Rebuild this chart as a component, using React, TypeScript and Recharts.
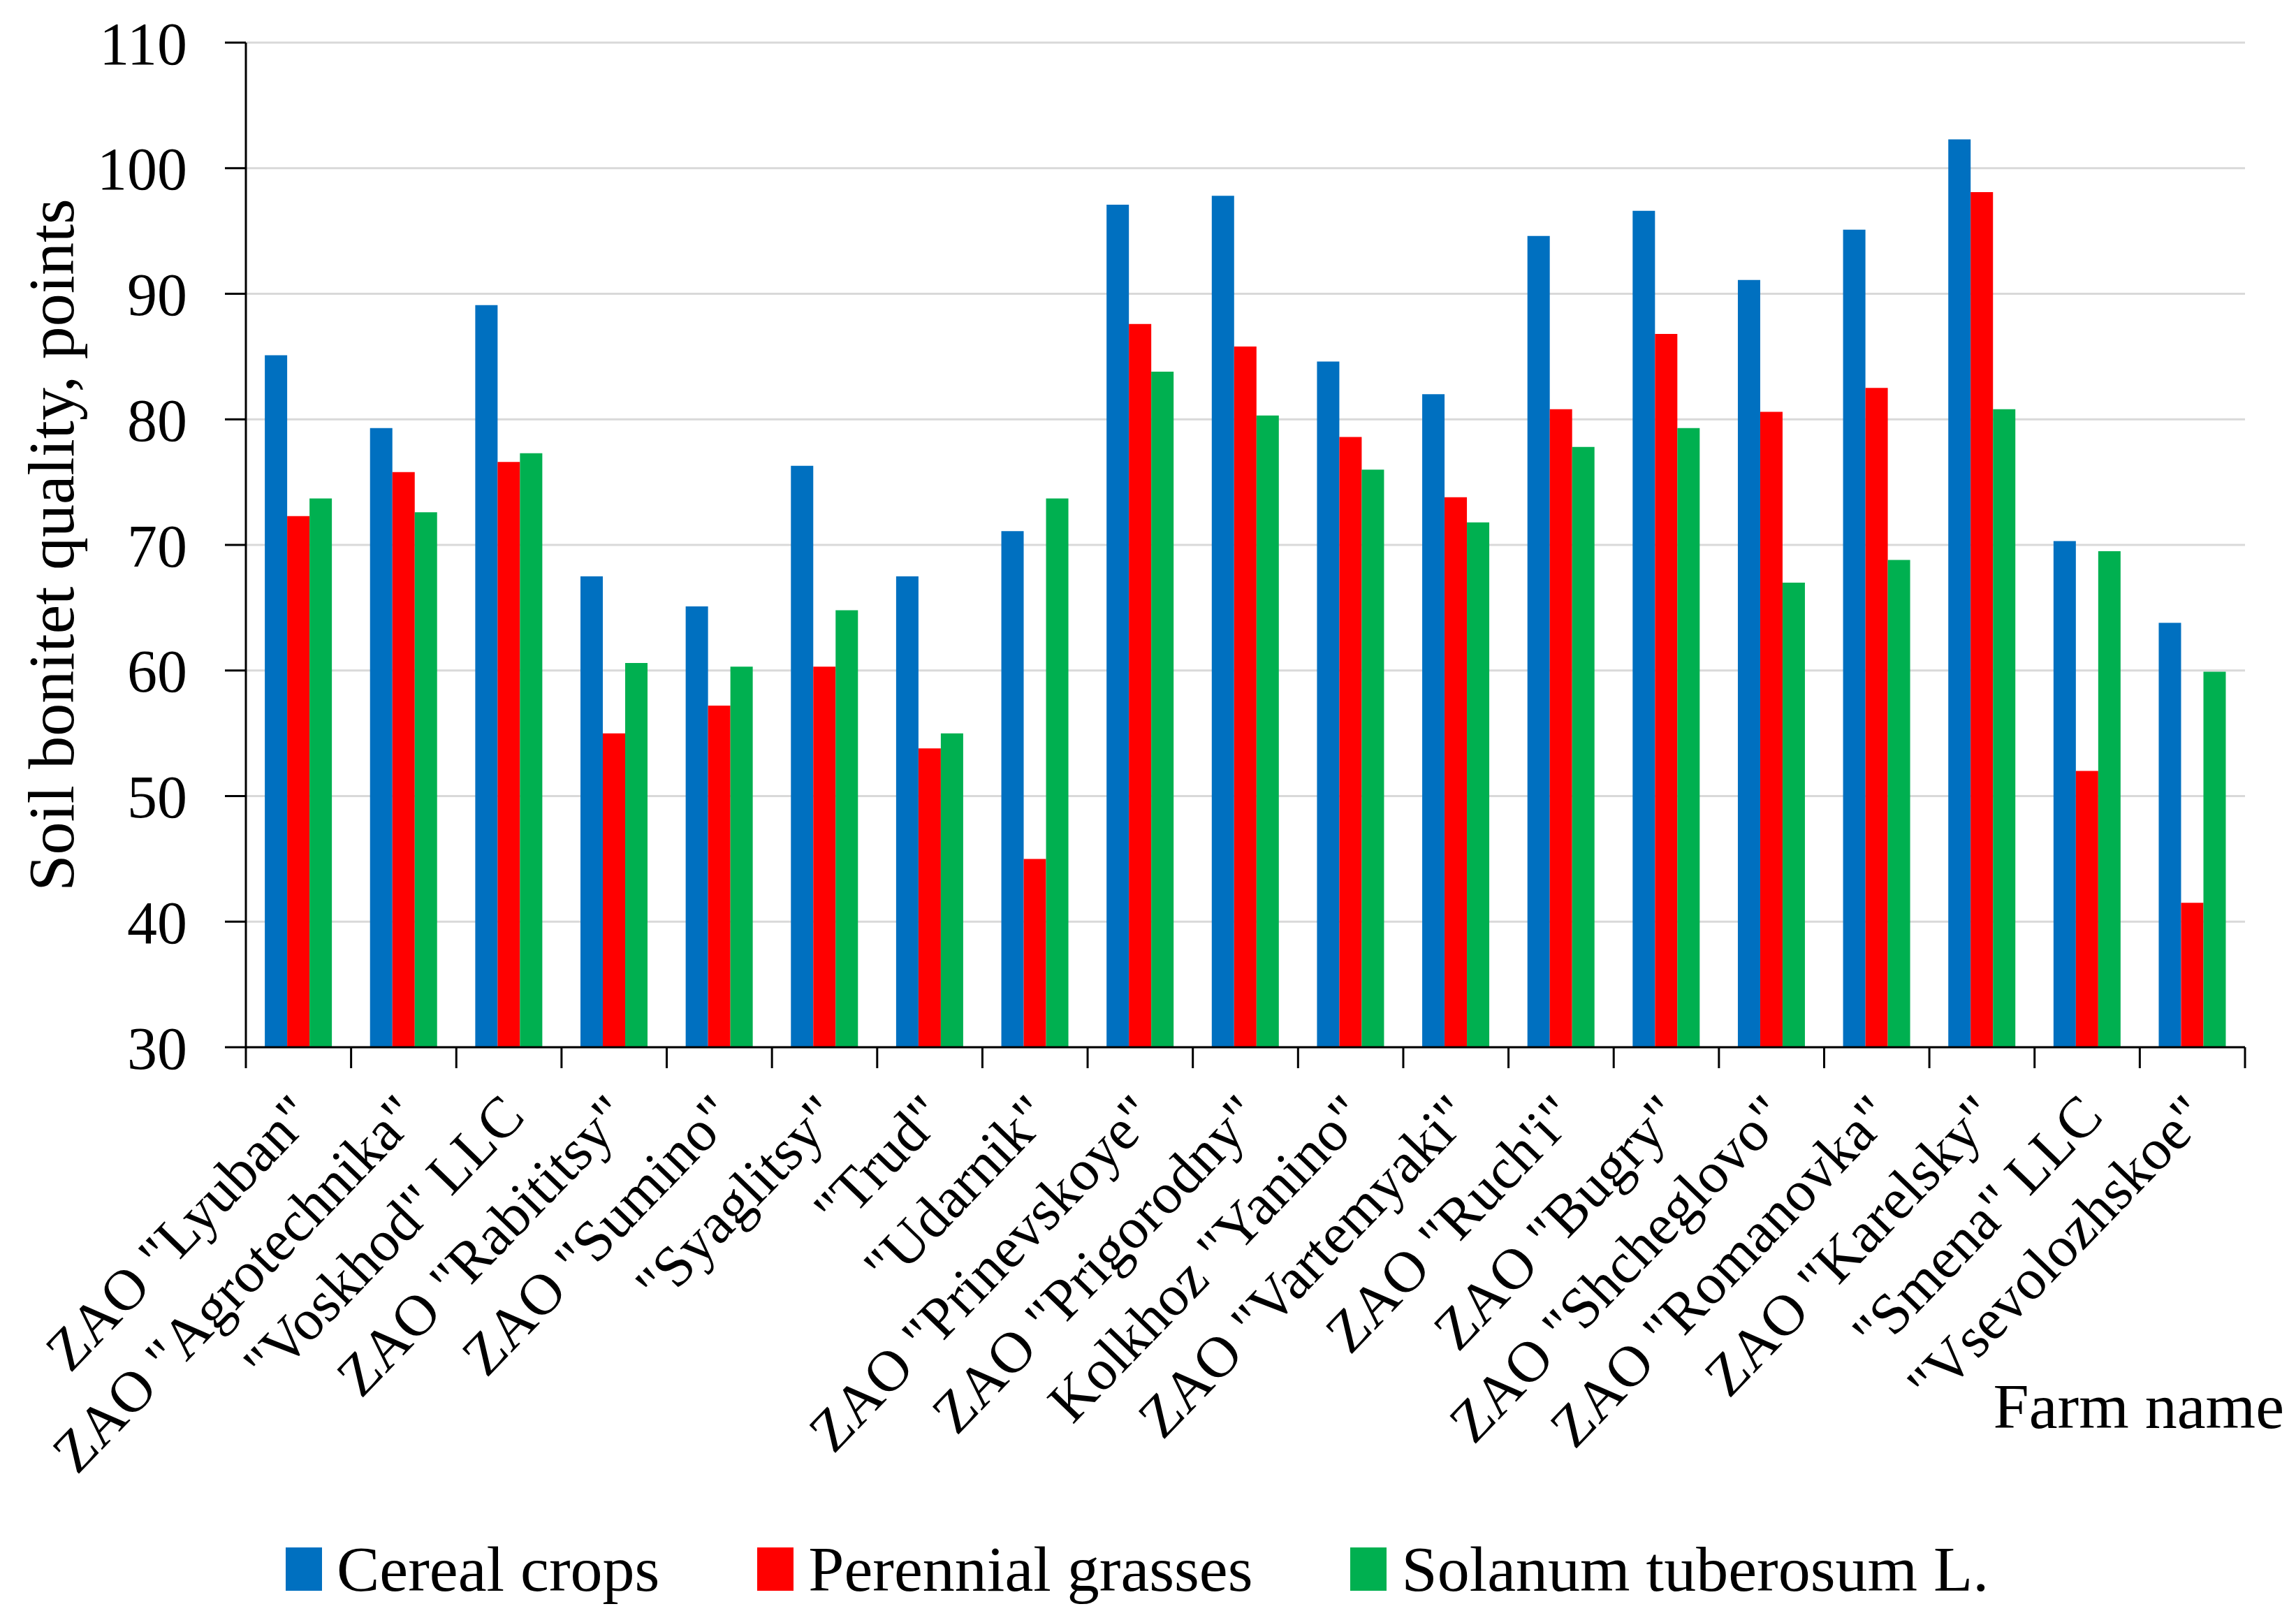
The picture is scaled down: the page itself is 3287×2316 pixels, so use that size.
import React from 'react';
import { BarChart, Bar, XAxis, YAxis, CartesianGrid, Legend } from 'recharts';

const farms = [
  'ZAO "Lyuban"',
  'ZAO "Agrotechnika"',
  '"Voskhod" LLC',
  'ZAO "Rabititsy"',
  'ZAO "Sumino"',
  '"Syaglitsy"',
  '"Trud"',
  '"Udarnik"',
  'ZAO "Prinevskoye"',
  'ZAO "Prigorodny"',
  'Kolkhoz "Yanino"',
  'ZAO "Vartemyaki"',
  'ZAO "Ruch\'i"',
  'ZAO "Bugry"',
  'ZAO "Shcheglovo"',
  'ZAO "Romanovka"',
  'ZAO "Karelsky"',
  '"Smena" LLC',
  '"Vsevolozhskoe"',
];
const cereal = [85.1, 79.3, 89.1, 67.5, 65.1, 76.3, 67.5, 71.1, 97.1, 97.8, 84.6, 82.0, 94.6, 96.6, 91.1, 95.1, 102.3, 70.3, 63.8];
const grasses = [72.3, 75.8, 76.6, 55.0, 57.2, 60.3, 53.8, 45.0, 87.6, 85.8, 78.6, 73.8, 80.8, 86.8, 80.6, 82.5, 98.1, 52.0, 41.5];
const potato = [73.7, 72.6, 77.3, 60.6, 60.3, 64.8, 55.0, 73.7, 83.8, 80.3, 76.0, 71.8, 77.8, 79.3, 67.0, 68.8, 80.8, 69.5, 59.9];
const yTicks = [30, 40, 50, 60, 70, 80, 90, 100, 110];

const data = farms.map((farm, i) => ({
  farm,
  cereal: cereal[i],
  grasses: grasses[i],
  potato: potato[i],
}));

const W = 3287;
const H = 2316;
const PLOT_LEFT = 352;
const PLOT_RIGHT = 3214;
const BAND = (PLOT_RIGHT - PLOT_LEFT) / farms.length;
const FONT = "'Liberation Serif', 'Times New Roman', serif";

const XTick = (props: any) => {
  const { x, y, payload, index } = props;
  const half = BAND / 2;
  return (
    <g>
      <line x1={x - half} x2={x - half} y1={y} y2={y + 30} stroke="#000" strokeWidth={3} />
      {index === farms.length - 1 && (
        <line x1={x + half} x2={x + half} y1={y} y2={y + 30} stroke="#000" strokeWidth={3} />
      )}
      <text
        transform={`translate(${x + 26},${y + 102}) rotate(-46)`}
        textAnchor="end"
        fontSize={83}
        fontFamily={FONT}
        fill="#000"
      >
        {payload.value}
      </text>
    </g>
  );
};

const LegendContent = (props: any) => {
  const { payload } = props;
  return (
    <div style={{ display: 'flex', alignItems: 'center', paddingLeft: 409, height: 110, fontFamily: FONT }}>
      {payload.map((p: any) => (
        <div key={p.value} style={{ display: 'flex', alignItems: 'center', marginRight: 140 }}>
          <div style={{ width: 52, height: 62, background: p.color, marginRight: 21 }} />
          <span style={{ fontSize: 92, color: '#000', lineHeight: 1 }}>{p.value}</span>
        </div>
      ))}
    </div>
  );
};

export default function App() {
  return (
    <div style={{ position: 'absolute', left: 0, top: 0, background: '#fff' }}>
      <BarChart
        width={W}
        height={H}
        data={data}
        margin={{ top: 61, right: W - PLOT_RIGHT, left: 0, bottom: 15 }}
        barCategoryGap="18%"
        barGap={0}
      >
        <CartesianGrid vertical={false} stroke="#D9D9D9" strokeWidth={3} />
        <XAxis
          dataKey="farm"
          interval={0}
          height={2316 - 1499 - 15 - 110}
          tickLine={false}
          tickSize={0}
          tickMargin={0}
          axisLine={{ stroke: '#000', strokeWidth: 3 }}
          tick={<XTick />}
          label={{
            content: (p: any) => {
              const vb = p.viewBox;
              return (
                <text
                  x={vb.x + vb.width + 56}
                  y={vb.y + 545}
                  textAnchor="end"
                  fontSize={92}
                  fontFamily={FONT}
                  fill="#000"
                >
                  Farm name
                </text>
              );
            },
          }}
        />
        <YAxis
          width={PLOT_LEFT}
          domain={[30, 110]}
          ticks={yTicks}
          interval={0}
          tickSize={30}
          tickMargin={54}
          axisLine={{ stroke: '#000', strokeWidth: 3 }}
          tickLine={{ stroke: '#000', strokeWidth: 3 }}
          tick={{ fill: '#000', fontSize: 86, fontFamily: FONT }}
          label={{
            content: (p: any) => {
              const vb = p.viewBox;
              const cy = vb.y + vb.height / 2;
              return (
                <text
                  transform={`translate(73,${cy}) rotate(-90)`}
                  textAnchor="middle"
                  dominantBaseline="central"
                  fontSize={94}
                  fontFamily={FONT}
                  fill="#000"
                >
                  Soil bonitet quality, points
                </text>
              );
            },
          }}
        />
        <Legend verticalAlign="bottom" height={110} content={<LegendContent />} />
        <Bar dataKey="cereal" name="Cereal crops" fill="#0070C0" isAnimationActive={false} />
        <Bar dataKey="grasses" name="Perennial grasses" fill="#FF0000" isAnimationActive={false} />
        <Bar dataKey="potato" name="Solanum tuberosum L." fill="#00B050" isAnimationActive={false} />
      </BarChart>
    </div>
  );
}
